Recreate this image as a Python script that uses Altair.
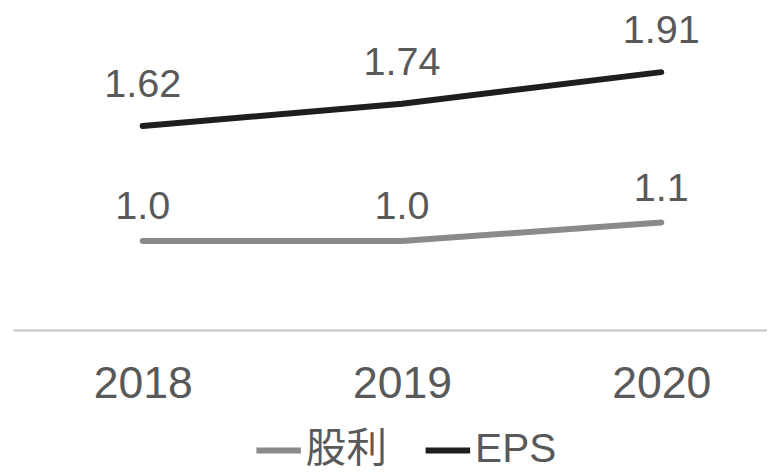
import altair as alt
import pandas as pd

years = ["2018", "2019", "2020"]
eps = [1.62, 1.74, 1.91]
eps_labels = ["1.62", "1.74", "1.91"]
div = [1.0, 1.0, 1.1]
div_labels = ["1.0", "1.0", "1.1"]
series = ["股利", "EPS"]
colors = ["#8a8a8a", "#1e1e1e"]

rows = []
for y, v, l in zip(years, div, div_labels):
    rows.append({"year": y, "value": v, "label": l, "series": "股利"})
for y, v, l in zip(years, eps, eps_labels):
    rows.append({"year": y, "value": v, "label": l, "series": "EPS"})
df = pd.DataFrame(rows)

FONT = "Liberation Sans, Arial, Noto Sans CJK TC, sans-serif"
TXT = "#595959"

x = alt.X("year:N", sort=years, title=None,
          scale=alt.Scale(type="point", padding=0.454, align=0.551),
          axis=alt.Axis(labelAngle=0, ticks=False, grid=False, domainColor="#c4c4c4",
                        domainWidth=2, labelFontSize=45, labelColor=TXT, labelFont=FONT,
                        labelPadding=32))
y = alt.Y("value:Q", title=None, scale=alt.Scale(domain=[0.52, 2.2], zero=False, nice=False),
          axis=None)
color = alt.Color("series:N", sort=series,
                  scale=alt.Scale(domain=series, range=colors),
                  legend=alt.Legend(title=None, orient="none", legendX=243, legendY=411,
                                    direction="horizontal", symbolType="stroke",
                                    symbolSize=2025, symbolStrokeWidth=6,
                                    labelFontSize=41, labelColor=TXT, labelFont=FONT,
                                    labelOffset=2, columnPadding=27, padding=0,
                                    labelLimit=300))

lines = alt.Chart(df).mark_line(strokeWidth=6, strokeCap="round").encode(x=x, y=y, color=color)

txt_eps = alt.Chart(df).transform_filter(alt.datum.series == "EPS").mark_text(
    fontSize=40, font=FONT, color=TXT, baseline="middle", dy=-41
).encode(x=x, y=y, text="label:N")

txt_div = alt.Chart(df).transform_filter(alt.datum.series == "股利").mark_text(
    fontSize=40, font=FONT, color=TXT, baseline="middle", dy=-34
).encode(x=x, y=y, text="label:N")

chart = alt.layer(lines, txt_eps, txt_div).properties(
    width=762, height=315,
    background="white",
    autosize=alt.AutoSizeParams(type="none"),
    padding={"left": 5, "right": 0, "top": 8, "bottom": 142},
).configure_view(strokeWidth=0, stroke="transparent")

chart.save("out.html", embed_options={"renderer": "svg", "actions": False})
